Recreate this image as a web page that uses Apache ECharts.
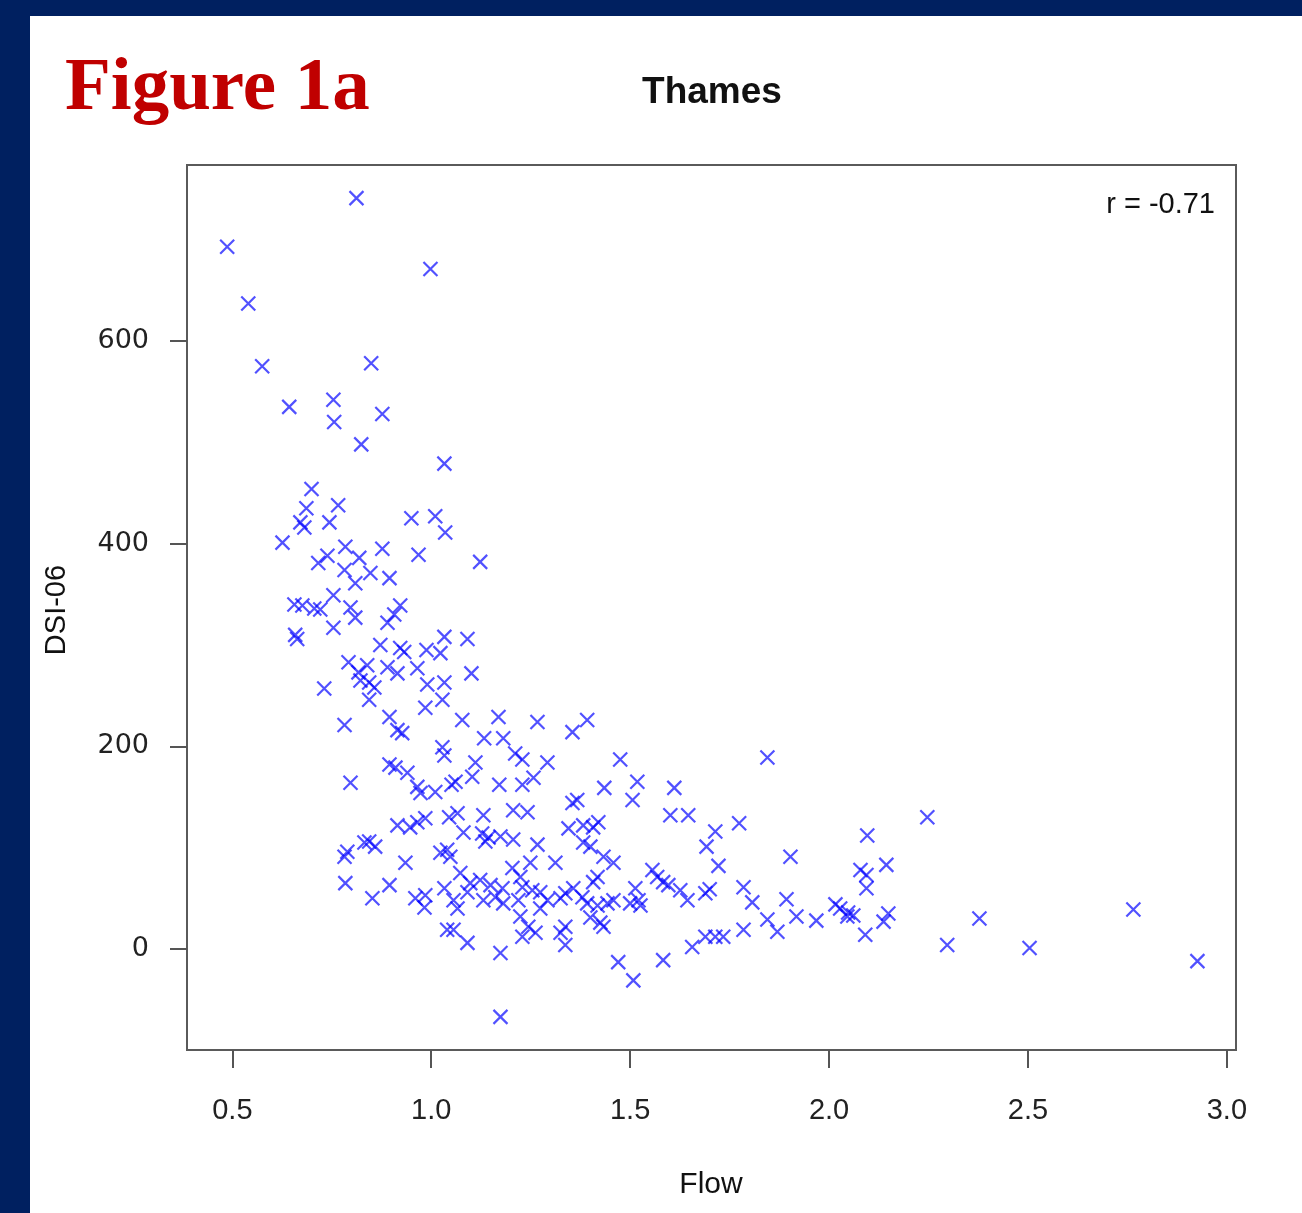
<!DOCTYPE html>
<html>
<head>
<meta charset="utf-8">
<script src="https://cdn.jsdelivr.net/npm/echarts@6/dist/echarts.min.js"></script>
<style>
html,body{margin:0;padding:0;background:#002060;width:1302px;height:1213px;overflow:hidden;}
#chart{position:absolute;left:30px;top:16px;width:1272px;height:1197px;background:#ffffff;}
</style>
</head>
<body>
<div id="chart"></div>
<script>
// Flow values (x)
var flow = [
0.812,0.487,0.998,0.540,0.575,0.849,0.643,0.754,0.756,0.877,
0.824,1.033,0.699,0.766,0.686,0.671,0.681,0.744,0.626,0.950,
1.010,1.035,0.877,0.968,0.784,0.716,0.739,0.819,0.782,0.847,
0.809,0.895,0.754,0.656,0.676,0.706,0.721,0.797,0.809,0.754,
0.922,0.907,0.890,0.658,0.663,0.872,0.922,0.932,0.988,1.023,
1.033,0.792,0.817,0.839,0.844,0.857,0.822,0.890,0.915,0.965,
0.990,1.033,0.844,0.731,0.985,1.028,0.782,0.895,0.915,0.927,
1.028,1.033,0.895,0.910,0.940,0.797,0.965,0.973,1.010,0.915,
0.965,0.985,0.947,0.782,0.789,0.832,0.859,0.844,0.935,0.784,
0.852,0.895,0.960,0.983,0.985,1.033,1.040,1.023,1.040,1.045,
1.078,1.169,1.267,1.392,1.355,1.133,1.181,1.211,1.229,1.292,
1.111,1.103,1.061,1.171,1.229,1.257,1.475,1.435,1.518,1.506,
1.611,1.601,1.646,1.355,1.367,1.206,1.242,1.066,1.131,1.345,
1.382,1.407,1.420,1.128,1.144,1.136,1.174,1.206,1.081,1.267,
1.382,1.400,1.433,1.458,1.249,1.312,1.556,1.568,1.583,1.596,
1.626,1.644,1.048,1.073,1.098,1.091,1.123,1.149,1.161,1.179,
1.204,1.224,1.229,1.254,1.274,1.056,1.066,1.131,1.181,1.219,
1.274,1.292,1.325,1.357,1.337,1.380,1.392,1.418,1.443,1.458,
1.407,1.418,1.513,1.521,1.500,1.526,1.224,1.244,1.262,1.229,
1.337,1.325,1.337,1.400,1.425,1.433,1.056,1.091,1.174,1.470,
1.508,1.583,1.656,1.174,1.123,1.091,1.101,1.845,1.714,1.774,
1.692,1.722,1.903,2.247,2.096,2.144,2.079,2.094,2.094,1.785,
1.689,1.700,1.807,1.893,1.845,1.870,1.918,1.968,2.016,2.028,
2.048,2.061,2.046,2.149,2.137,2.091,1.785,1.734,1.714,1.689,
2.297,2.378,2.765,2.504,2.926,1.051
];
// DSI-06 values (y)
var dsi = [
741,693,671,637,575,578,535,542,520,528,
498,479,454,438,435,421,416,421,401,425,
427,411,395,389,397,381,388,386,374,371,
361,366,349,340,339,336,335,337,327,317,
339,330,322,310,306,300,297,293,295,292,
308,283,273,280,263,258,265,278,272,277,
261,263,246,257,238,246,221,229,216,213,
199,191,182,179,174,164,160,154,155,122,
125,129,120,91,96,105,101,106,85,65,
50,63,50,41,53,60,98,95,19,130,
226,229,224,226,214,208,208,193,187,184,
184,170,165,162,162,169,187,159,165,147,
159,132,132,144,147,137,135,134,132,119,
122,120,125,114,110,106,111,108,115,103,
105,101,91,85,85,85,78,71,66,63,
58,48,91,75,65,56,68,63,51,60,
80,71,61,58,56,48,40,48,45,48,
40,48,50,60,55,51,45,43,45,48,
66,71,60,48,45,43,32,22,16,12,
22,16,4,31,26,22,19,6,-4,-13,
-31,-11,2,-67,382,306,272,189,116,124,
101,82,91,130,112,83,78,73,60,61,
55,59,46,49,29,17,32,28,44,40,
36,33,32,35,27,14,19,12,12,12,
4,30,39,1,-12,162
];
var xTicks = [0.5, 1.0, 1.5, 2.0, 2.5, 3.0];
var yTicks = [0, 200, 400, 600];
var titleText = 'Thames';
var figureText = 'Figure 1a';
var xName = 'Flow';
var yName = 'DSI-06';
var corrText = 'r = -0.71';

var points = flow.map(function (f, i) { return [f, dsi[i]]; });

var chart = echarts.init(document.getElementById('chart'), null, {renderer: 'canvas'});
chart.setOption({
  animation: false,
  backgroundColor: '#ffffff',
  grid: {
    left: 157, top: 149, right: 66, bottom: 163,
    show: true, borderColor: '#5a5a5a', borderWidth: 2, backgroundColor: 'transparent'
  },
  xAxis: {
    type: 'value', min: 0.386, max: 3.023,
    axisLine: {show: false, onZero: false},
    splitLine: {show: false},
    axisTick: {show: true, inside: false, length: 18, customValues: xTicks,
      lineStyle: {color: '#555', width: 2}},
    axisLabel: {customValues: xTicks, margin: 46, fontFamily: 'Liberation Sans',
      fontSize: 29, lineHeight: 30, color: '#222',
      formatter: function (v) { return v.toFixed(1); }}
  },
  yAxis: {
    type: 'value', min: -99.7, max: 773.7,
    axisLine: {show: false, onZero: false},
    splitLine: {show: false},
    axisTick: {show: true, inside: false, length: 17, customValues: yTicks,
      lineStyle: {color: '#555', width: 2}},
    axisLabel: {customValues: yTicks, margin: 38, fontFamily: 'DejaVu Sans',
      fontSize: 27, color: '#222'}
  },
  series: [{
    type: 'scatter',
    data: points,
    symbol: 'path://M0,0L10,10M10,0L0,10',
    symbolSize: 14,
    itemStyle: {color: 'rgba(0,0,0,0)', borderColor: 'rgba(0,0,255,0.85)', borderWidth: 2.2},
    emphasis: {disabled: true}
  }],
  graphic: [
    {type: 'text', left: 35, top: 36, style: {text: figureText,
      font: 'bold 75px "Liberation Serif"', fill: '#c00000'}},
    {type: 'text', x: 682, y: 77, style: {text: titleText, align: 'center', verticalAlign: 'middle',
      font: 'bold 37px "Liberation Sans"', fill: '#111'}},
    {type: 'text', x: 1185, y: 189, style: {text: corrText, align: 'right', verticalAlign: 'middle',
      font: '29px "Liberation Sans"', fill: '#111'}},
    {type: 'text', x: 681, y: 1169, style: {text: xName, align: 'center', verticalAlign: 'middle',
      font: '30px "Liberation Sans"', fill: '#111'}},
    {type: 'text', x: 27, y: 594, rotation: Math.PI / 2, style: {text: yName, align: 'center', verticalAlign: 'middle',
      font: '29px "Liberation Sans"', fill: '#111'}}
  ]
});
</script>
</body>
</html>
